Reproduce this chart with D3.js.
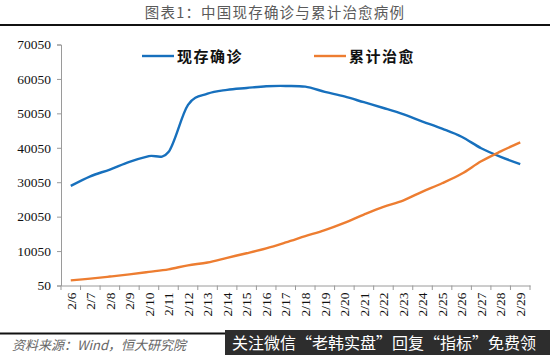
<!DOCTYPE html>
<html><head><meta charset="utf-8">
<script src="https://cdn.jsdelivr.net/npm/d3@7"></script>
<style>
html,body{margin:0;padding:0;background:#fff;}
svg{display:block;}
</style></head>
<body>
<svg id="c" width="550" height="355"></svg>
<script>
const dates = ['2/6','2/7','2/8','2/9','2/10','2/11','2/12','2/13','2/14','2/15','2/16','2/17','2/18','2/19','2/20','2/21','2/22','2/23','2/24','2/25','2/26','2/27','2/28','2/29'];
const existing = [28985,31774,33738,35982,37626,38800,52526,55748,56873,57416,57934,58016,57805,56303,54965,53284,51606,49824,47672,45604,43258,39919,37414,35329];
const recovered = [1540,2050,2649,3281,3996,4740,5911,6723,8096,9419,10844,12552,14376,16155,18264,20659,22888,24734,27323,29745,32495,36117,39002,41625];
const yTicks = [50,10050,20050,30050,40050,50050,60050,70050];
const seriesNames = ['现存确诊','累计治愈'];
const colors = ['#1770bd','#ed7d31'];

const svg = d3.select('#c');
const cjk = '"Noto Sans CJK SC", sans-serif';
const serif = '"Liberation Serif", "DejaVu Serif", serif';

// title
svg.append('text').attr('x', 275).attr('y', 18).attr('text-anchor','middle')
  .attr('font-family', cjk).attr('font-size', 14.5).attr('fill','#5a5a5a')
  .attr('letter-spacing', 1.2)
  .text('图表1：中国现存确诊与累计治愈病例');
svg.append('line').attr('x1',0).attr('x2',550).attr('y1',25).attr('y2',25)
  .attr('stroke','#111').attr('stroke-width',2.2);

const x = d3.scaleBand().domain(dates).range([61, 530]);
const y = d3.scaleLinear().domain([50, 70050]).range([285.5, 44.5]);

// y axis
const ya = svg.append('g').attr('transform','translate(61,0)')
  .call(d3.axisLeft(y).tickValues(yTicks).tickSize(4).tickFormat(d3.format('d')));
ya.select('.domain').attr('stroke','#9a9a9a');
ya.selectAll('.tick line').attr('stroke','#9a9a9a');
ya.selectAll('.tick text').attr('font-family', serif).attr('font-size', 13.5)
  .attr('fill','#111').attr('x', -10);

// x axis
const xa = svg.append('g').attr('transform','translate(0,285.5)')
  .call(d3.axisBottom(x).tickSize(0).tickSizeOuter(0));
xa.select('.domain').attr('stroke','#9a9a9a');
xa.selectAll('.tick text').attr('font-family', serif).attr('font-size', 13.5).attr('fill','#111')
  .attr('transform','rotate(-90)').attr('text-anchor','end').attr('dy','0.35em').attr('x',-7).attr('y',0);
// category boundary ticks
const bounds = dates.map(d => x(d)).concat([x(dates[dates.length-1]) + x.bandwidth()]);
svg.append('g').selectAll('line').data(bounds).join('line')
  .attr('x1', d => d).attr('x2', d => d).attr('y1', 285.5).attr('y2', 290)
  .attr('stroke','#9a9a9a');

// lines
const cx = (d,i) => x(dates[i]) + x.bandwidth()/2;
const line = d3.line().x(cx).y(d => y(d)).curve(d3.curveCardinal.tension(0));
[existing, recovered].forEach((s,k) => {
  svg.append('path').datum(s).attr('d', line).attr('fill','none')
    .attr('stroke', colors[k]).attr('stroke-width', 2.4).attr('stroke-linejoin','round');
});

// legend
const legX = [142, 314];
seriesNames.forEach((n,k) => {
  svg.append('line').attr('x1', legX[k]).attr('x2', legX[k]+32).attr('y1',56).attr('y2',56)
    .attr('stroke', colors[k]).attr('stroke-width', 2.4);
  svg.append('text').attr('x', legX[k]+35).attr('y', 61.5)
    .attr('font-family', cjk).attr('font-size', 15).attr('font-weight','bold')
    .attr('letter-spacing', 1.5).attr('fill','#111').text(n);
});

// footer
svg.append('line').attr('x1',0).attr('x2',550).attr('y1',333.5).attr('y2',333.5)
  .attr('stroke','#111').attr('stroke-width',2.2);
svg.append('text').attr('x', 12).attr('y', 350)
  .attr('font-family', cjk).attr('font-size', 13).attr('font-style','italic')
  .attr('fill','#666').text('资料来源：Wind，恒大研究院');
svg.append('rect').attr('x', 225).attr('y', 330).attr('width', 325).attr('height', 25)
  .attr('fill','#2d2d2d');
svg.append('text').attr('x', 232).attr('y', 349)
  .attr('font-family', cjk).attr('font-size', 16).attr('fill','#fff')
  .text('关注微信“老韩实盘”回复“指标”免费领');
</script>
</body></html>
